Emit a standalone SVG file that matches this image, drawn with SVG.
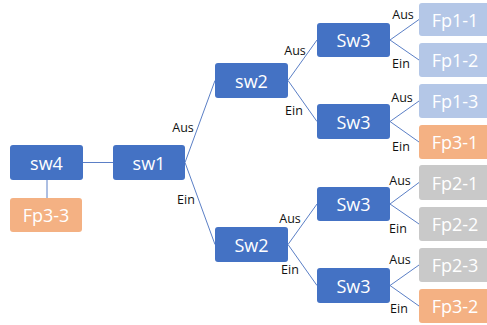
<svg xmlns="http://www.w3.org/2000/svg" width="487" height="325" viewBox="0 0 487 325">
<style>
.n rect{stroke:none}
.sw rect{fill:#4472C4}
.lb rect{fill:#B4C7E7}
.or rect{fill:#F4B183}
.gr rect{fill:#C9C9C9}
.n text{font-family:"Open Sans","Noto Sans",sans-serif;font-size:18px;fill:#fff;text-anchor:middle;dominant-baseline:central}
.c line{stroke:#5B7FC6;stroke-width:1}
.l{font-family:"Open Sans","Noto Sans",sans-serif;font-size:12.5px;fill:#111;text-anchor:middle;dominant-baseline:central}
</style>
<rect width="487" height="325" fill="#fff"/>
<g id="connectors" class="c">
<line x1="83" y1="162.5" x2="113" y2="162.5"/>
<line x1="47" y1="180" x2="47" y2="198"/>
<line x1="185" y1="162.5" x2="215" y2="80.5"/>
<line x1="185" y1="162.5" x2="215" y2="244.5"/>
<line x1="288" y1="80.5" x2="317" y2="40"/>
<line x1="288" y1="80.5" x2="317" y2="121.5"/>
<line x1="288" y1="244.5" x2="317" y2="204"/>
<line x1="288" y1="244.5" x2="317" y2="285.5"/>
<line x1="390" y1="40" x2="419" y2="19.5"/>
<line x1="390" y1="40" x2="419" y2="60"/>
<line x1="390" y1="121.5" x2="419" y2="101"/>
<line x1="390" y1="121.5" x2="419" y2="142"/>
<line x1="390" y1="204" x2="419" y2="182.5"/>
<line x1="390" y1="204" x2="419" y2="224"/>
<line x1="390" y1="285.5" x2="419" y2="265"/>
<line x1="390" y1="285.5" x2="419" y2="306"/>
</g>
<g id="labels">
<text class="l" x="183" y="127">Aus</text>
<text class="l" x="186" y="199">Ein</text>
<text class="l" x="295" y="50">Aus</text>
<text class="l" x="294" y="110">Ein</text>
<text class="l" x="290" y="218">Aus</text>
<text class="l" x="290" y="269">Ein</text>
<text class="l" x="403" y="14">Aus</text>
<text class="l" x="401" y="63">Ein</text>
<text class="l" x="402" y="97">Aus</text>
<text class="l" x="401" y="146">Ein</text>
<text class="l" x="400" y="180">Aus</text>
<text class="l" x="398" y="228">Ein</text>
<text class="l" x="400" y="259">Aus</text>
<text class="l" x="399" y="308">Ein</text>
</g>
<g id="sw4" class="n sw"><rect x="10" y="145" width="73" height="35" rx="3"/><text x="46.5" y="162.5">sw4</text></g>
<g id="fp3-3" class="n or"><rect x="10" y="198" width="72" height="34" rx="3"/><text x="46" y="215">Fp3-3</text></g>
<g id="sw1" class="n sw"><rect x="113" y="145" width="72" height="35" rx="3"/><text x="149" y="162.5">sw1</text></g>
<g id="sw2a" class="n sw"><rect x="215" y="63" width="73" height="35" rx="3"/><text x="251.5" y="80.5">sw2</text></g>
<g id="sw2b" class="n sw"><rect x="215" y="227" width="73" height="35" rx="3"/><text x="251.5" y="244.5">Sw2</text></g>
<g id="sw3a" class="n sw"><rect x="317" y="23" width="73" height="34" rx="3"/><text x="353.5" y="40">Sw3</text></g>
<g id="sw3b" class="n sw"><rect x="317" y="104" width="73" height="35" rx="3"/><text x="353.5" y="121.5">Sw3</text></g>
<g id="sw3c" class="n sw"><rect x="317" y="187" width="73" height="34" rx="3"/><text x="353.5" y="204">Sw3</text></g>
<g id="sw3d" class="n sw"><rect x="317" y="268" width="73" height="35" rx="3"/><text x="353.5" y="285.5">Sw3</text></g>
<g id="fp1-1" class="n lb"><rect x="419" y="3" width="73" height="33" rx="3"/><text x="455" y="19.5">Fp1-1</text></g>
<g id="fp1-2" class="n lb"><rect x="419" y="43" width="73" height="34" rx="3"/><text x="455" y="60">Fp1-2</text></g>
<g id="fp1-3" class="n lb"><rect x="419" y="84" width="73" height="34" rx="3"/><text x="455" y="101">Fp1-3</text></g>
<g id="fp3-1" class="n or"><rect x="419" y="125" width="73" height="34" rx="3"/><text x="455" y="142">Fp3-1</text></g>
<g id="fp2-1" class="n gr"><rect x="419" y="165" width="73" height="35" rx="3"/><text x="455" y="182.5">Fp2-1</text></g>
<g id="fp2-2" class="n gr"><rect x="419" y="207" width="73" height="34" rx="3"/><text x="455" y="224">Fp2-2</text></g>
<g id="fp2-3" class="n gr"><rect x="419" y="248" width="73" height="34" rx="3"/><text x="455" y="265">Fp2-3</text></g>
<g id="fp3-2" class="n or"><rect x="419" y="289" width="73" height="34" rx="3"/><text x="455" y="306">Fp3-2</text></g>
</svg>
